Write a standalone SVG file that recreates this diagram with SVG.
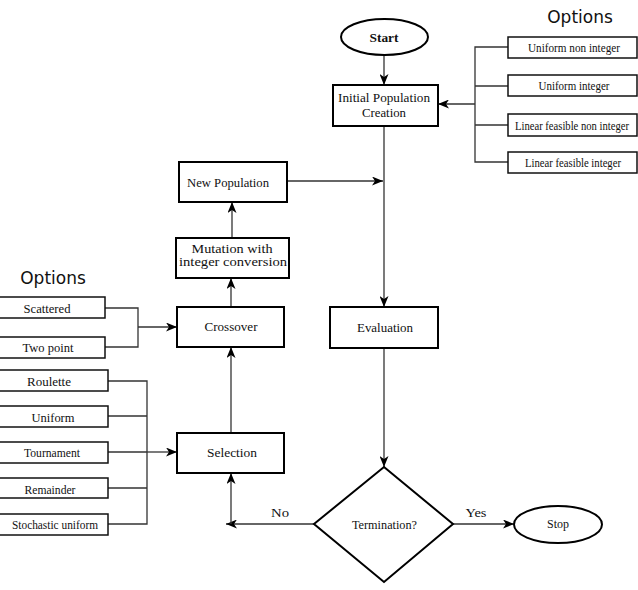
<svg xmlns="http://www.w3.org/2000/svg" width="638" height="590" viewBox="0 0 638 590">
<defs>
<style>
.box{fill:#fff;stroke:#000;stroke-width:2}
.opt{fill:#fff;stroke:#111;stroke-width:1.5}
.con{fill:none;stroke:#333;stroke-width:1.3}
.t{font-family:"Liberation Serif","Times New Roman",serif;font-size:13.5px;fill:#111;text-anchor:middle}
.s{font-size:12px}
.o{font-family:"DejaVu Sans","Noto Sans",sans-serif;font-size:17px;fill:#111;text-anchor:middle}
</style>
<marker id="ah" markerWidth="11" markerHeight="9" refX="11" refY="4.5" orient="auto" markerUnits="userSpaceOnUse">
<path d="M0,0 L11,4.5 L0,9 L3,4.5 Z" fill="#000"/>
</marker>
</defs>
<rect width="638" height="590" fill="#fff"/>

<g id="connectors">
<line class="con" x1="384" y1="55" x2="384" y2="85" marker-end="url(#ah)"/>
<line class="con" x1="384" y1="126" x2="384" y2="307" marker-end="url(#ah)"/>
<line class="con" x1="287" y1="181" x2="383" y2="181" marker-end="url(#ah)"/>
<line class="con" x1="384" y1="348" x2="384" y2="467" marker-end="url(#ah)"/>
<line class="con" x1="232" y1="238" x2="232" y2="202" marker-end="url(#ah)"/>
<line class="con" x1="231" y1="307" x2="231" y2="278" marker-end="url(#ah)"/>
<line class="con" x1="231" y1="433" x2="231" y2="347" marker-end="url(#ah)"/>
<line class="con" x1="314" y1="524" x2="226" y2="524" marker-end="url(#ah)"/>
<line class="con" x1="231" y1="524" x2="231" y2="473" marker-end="url(#ah)"/>
<line class="con" x1="453" y1="524" x2="514" y2="524" marker-end="url(#ah)"/>
<path class="con" d="M508,47 H475 V162 H508 M475,86 H508 M475,125 H508"/>
<line class="con" x1="475" y1="104" x2="438" y2="104" marker-end="url(#ah)"/>
<path class="con" d="M105,308 H138 V347 H105"/>
<line class="con" x1="138" y1="327" x2="177" y2="327" marker-end="url(#ah)"/>
<path class="con" d="M108,381 H147 V524 H108 M108,416 H147 M108,452 H147 M108,488 H147"/>
<line class="con" x1="147" y1="452" x2="177" y2="452" marker-end="url(#ah)"/>
<text class="t" x="280" y="517" textLength="18" lengthAdjust="spacingAndGlyphs">No</text>
<text class="t" x="476" y="517" textLength="21" lengthAdjust="spacingAndGlyphs">Yes</text>
</g>

<text class="o" x="580" y="23">Options</text>
<text class="o" x="53" y="284">Options</text>

<g id="start">
<ellipse cx="384.5" cy="37" rx="43.5" ry="18" fill="#fff" stroke="#000" stroke-width="2"/>
<text class="t" x="384" y="42" font-weight="bold" textLength="29" lengthAdjust="spacingAndGlyphs">Start</text>
</g>
<g id="initial">
<rect class="box" x="333" y="85" width="105" height="41"/>
<text class="t" x="384" y="102" textLength="92" lengthAdjust="spacingAndGlyphs">Initial Population</text>
<text class="t" x="384" y="117" textLength="44" lengthAdjust="spacingAndGlyphs">Creation</text>
</g>
<g id="opt-r1"><rect class="opt" x="508" y="37" width="129" height="21"/><text class="t s" x="574" y="52" textLength="92" lengthAdjust="spacingAndGlyphs">Uniform non integer</text></g>
<g id="opt-r2"><rect class="opt" x="508" y="75" width="129" height="21"/><text class="t s" x="574" y="90" textLength="71" lengthAdjust="spacingAndGlyphs">Uniform integer</text></g>
<g id="opt-r3"><rect class="opt" x="508" y="114" width="129" height="22"/><text class="t s" x="572" y="130" textLength="114" lengthAdjust="spacingAndGlyphs">Linear feasible non integer</text></g>
<g id="opt-r4"><rect class="opt" x="508" y="152" width="129" height="21"/><text class="t s" x="573" y="167" textLength="96" lengthAdjust="spacingAndGlyphs">Linear feasible integer</text></g>

<g id="newpop">
<rect class="box" x="179" y="162" width="108" height="40"/>
<text class="t" x="228" y="187" textLength="82" lengthAdjust="spacingAndGlyphs">New Population</text>
</g>
<g id="mutation">
<rect class="box" x="176" y="238" width="113" height="40"/>
<text class="t" x="232" y="253" font-size="10.5" textLength="81" lengthAdjust="spacingAndGlyphs">Mutation with</text>
<text class="t" x="233" y="266" font-size="10.5" textLength="108" lengthAdjust="spacingAndGlyphs">integer conversion</text>
</g>
<g id="crossover">
<rect class="box" x="177" y="307" width="107" height="40" stroke-width="2.5"/>
<text class="t" x="231" y="331" textLength="53" lengthAdjust="spacingAndGlyphs">Crossover</text>
</g>
<g id="opt-scattered"><rect class="opt" x="-1" y="297" width="106" height="21"/><text class="t" x="47" y="313" textLength="47" lengthAdjust="spacingAndGlyphs">Scattered</text></g>
<g id="opt-twopoint"><rect class="opt" x="-1" y="337" width="106" height="21"/><text class="t" x="48" y="352" textLength="51" lengthAdjust="spacingAndGlyphs">Two point</text></g>

<g id="selection">
<rect class="box" x="177" y="433" width="107" height="40"/>
<text class="t" x="232" y="457" textLength="50" lengthAdjust="spacingAndGlyphs">Selection</text>
</g>
<g id="opt-roulette"><rect class="opt" x="-1" y="370" width="109" height="21"/><text class="t" x="49" y="386" textLength="44" lengthAdjust="spacingAndGlyphs">Roulette</text></g>
<g id="opt-uniform"><rect class="opt" x="-1" y="406" width="109" height="21"/><text class="t" x="53" y="422" textLength="43" lengthAdjust="spacingAndGlyphs">Uniform</text></g>
<g id="opt-tournament"><rect class="opt" x="-1" y="442" width="109" height="21"/><text class="t" x="52" y="457" textLength="56" lengthAdjust="spacingAndGlyphs">Tournament</text></g>
<g id="opt-remainder"><rect class="opt" x="-1" y="478" width="109" height="20"/><text class="t" x="50" y="494" textLength="51" lengthAdjust="spacingAndGlyphs">Remainder</text></g>
<g id="opt-stochastic"><rect class="opt" x="-1" y="514" width="109" height="21"/><text class="t" x="55" y="529" textLength="86" lengthAdjust="spacingAndGlyphs">Stochastic uniform</text></g>

<g id="evaluation">
<rect class="box" x="330" y="307" width="108" height="41"/>
<text class="t" x="385" y="332" textLength="56" lengthAdjust="spacingAndGlyphs">Evaluation</text>
</g>
<g id="termination">
<polygon points="384,467 453,524 384,582 314,524" fill="#fff" stroke="#000" stroke-width="2"/>
<text class="t" x="384.5" y="529" textLength="65" lengthAdjust="spacingAndGlyphs">Termination?</text>
</g>
<g id="stop">
<ellipse cx="558" cy="524.5" rx="44" ry="18.5" fill="#fff" stroke="#000" stroke-width="2"/>
<text class="t" x="558" y="528" textLength="22" lengthAdjust="spacingAndGlyphs">Stop</text>
</g>
</svg>
